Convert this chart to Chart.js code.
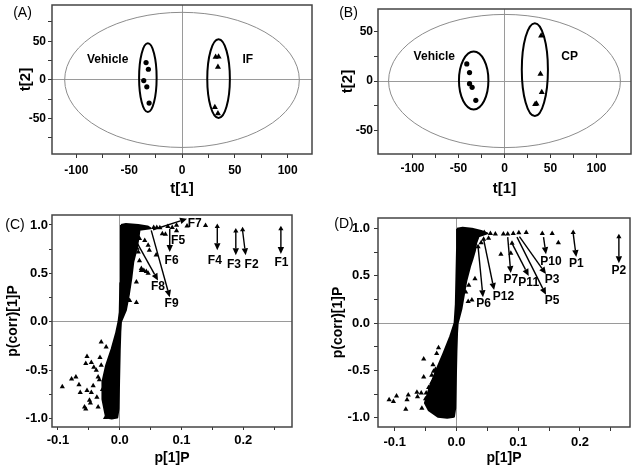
<!DOCTYPE html>
<html><head><meta charset="utf-8">
<script src="https://cdn.jsdelivr.net/npm/chart.js@4.4.1/dist/chart.umd.min.js"></script>
<style>
html,body{margin:0;padding:0;background:#fff;width:638px;height:471px;overflow:hidden;position:relative}
canvas{position:absolute}
</style></head><body>
<canvas id="cA" width="320" height="200" style="left:0;top:0"></canvas>
<canvas id="cB" width="320" height="200" style="left:318px;top:0"></canvas>
<canvas id="cC" width="318" height="271" style="left:0;top:200px"></canvas>
<canvas id="cD" width="320" height="271" style="left:318px;top:200px"></canvas>
<script>
// ---------- Panel A (IF) ----------
const A_vehicleT1 = [-34, -31.8, -36.2, -33.3, -31.1];
const A_vehicleT2 = [22.4, 13.8, -0.9, -9, -30.1];
const A_groupT1 = [31.8, 34.6, 34, 31.1, 34];
const A_groupT2 = [29.7, 30.1, 16.8, -35.3, -43.5];
const A_ellCx = [0, -32.3, 34.6];
const A_ellCy = [0, 2.8, 1.5];
const A_ellRx = [111, 8.3, 10.7];
const A_ellRy = [87.5, 44.5, 51];
const A_names = ['Vehicle', 'IF'];
const A_nameX = [-70.3, 62.3];
const A_nameY = [25.8, 25.8];
const A_xTicks = [-100, -75, -50, -25, 0, 25, 50, 75, 100];
const A_xLabeled = [-100, -50, 0, 50, 100];
const A_yTicks = [-75, -50, -25, 0, 25, 50, 75];
const A_yLabeled = [-50, 0, 50];

// ---------- Panel B (CP) ----------
const B_vehicleT1 = [-41, -38, -38, -35.2, -31.2];
const B_vehicleT2 = [17.3, 8.5, -2.7, -6.4, -19.6];
const B_groupT1 = [39.8, 39.1, 40.5, 34.8, 33.3];
const B_groupT2 = [46, 7.1, -11.5, -23, -23.6];
const B_ellCx = [0, -33.5, 33];
const B_ellCy = [0, 0.5, 11.5];
const B_ellRx = [126, 16, 14.2];
const B_ellRy = [67.5, 29.3, 47.1];
const B_names = ['Vehicle', 'CP'];
const B_nameX = [-76.3, 70.7];
const B_nameY = [24.4, 24.4];
const B_xTicks = [-100, -75, -50, -25, 0, 25, 50, 75, 100];
const B_xLabeled = [-100, -50, 0, 50, 100];
const B_yTicks = [-50, -25, 0, 25, 50];
const B_yLabeled = [-50, 0, 50];

// ---------- Panel C (S-plot IF) ----------
const C_blobX = [0.002,0.010,0.030,0.045,0.050,0.032,0.030,0.026,0.022,0.019,0.015,0.010,0.004,0.002,0.001,0.000,-0.001,-0.002,-0.004,-0.013,-0.022,-0.024,-0.028,-0.028,-0.022,-0.013,-0.006,-0.002,0.000,0.001,0.002];
const C_blobY = [1.000,1.010,1.000,0.985,0.965,0.950,0.850,0.720,0.620,0.460,0.290,0.120,0.030,0.000,-0.100,-0.300,-0.600,-0.900,-0.990,-1.000,-0.990,-0.930,-0.800,-0.620,-0.450,-0.280,-0.120,0.000,0.100,0.400,0.700];
const C_upX = [0.139,0.158,0.188,0.199,0.261,0.109,0.078,0.092,0.092,0.069,0.074,0.060,0.065,0.055,0.085,0.0405,0.046,0.048,0.059,0.035,0.039,0.043,0.046,0.027,0.016,0.027,0.032,0.035,0.032,0.028,0.030];
const C_upY = [0.995,0.985,0.937,0.951,0.962,0.990,0.985,0.996,0.940,0.910,0.905,0.975,0.970,0.975,0.975,0.840,0.790,0.740,0.690,0.530,0.530,0.520,0.500,0.410,0.220,0.200,0.630,0.550,0.860,0.760,0.720];
const C_lowX = [-0.093,-0.078,-0.071,-0.066,-0.064,-0.053,-0.055,-0.057,-0.055,-0.046,-0.042,-0.032,-0.030,-0.022,-0.053,-0.049,-0.035,-0.037,-0.023,-0.0475,-0.046,-0.043,-0.035,-0.038,-0.030,-0.033,-0.028];
const C_lowY = [-0.67,-0.59,-0.57,-0.65,-0.73,-0.36,-0.43,-0.88,-0.90,-0.42,-0.47,-0.37,-0.21,-0.26,-0.71,-0.81,-0.88,-0.78,-0.99,-0.84,-0.73,-0.66,-0.57,-0.50,-0.45,-0.60,-0.70];
const C_arrX0 = [0.261, 0.199, 0.188, 0.158, 0.081, 0.054, 0.0216, 0.051];
const C_arrY0 = [0.95, 0.94, 0.93, 0.97, 0.96, 0.951, 0.89, 0.944];
const C_arrX1 = [0.261, 0.204, 0.188, 0.158, 0.081, 0.109, 0.062, 0.081];
const C_arrY1 = [0.70, 0.686, 0.686, 0.74, 0.72, 1.065, 0.427, 0.254];
const C_labels = ['F1', 'F2', 'F3', 'F4', 'F5', 'F6', 'F7', 'F8', 'F9'];
const C_labelX = [0.262, 0.2135, 0.185, 0.154, 0.0945, 0.084, 0.1215, 0.062, 0.084];
const C_labelY = [0.61, 0.59, 0.59, 0.634, 0.84, 0.634, 1.017, 0.365, 0.186];
const C_xTicks = [-0.1, -0.05, 0, 0.05, 0.1, 0.15, 0.2, 0.25];
const C_xLabeled = [-0.1, 0, 0.1, 0.2];
const C_yTicks = [-1, -0.75, -0.5, -0.25, 0, 0.25, 0.5, 0.75, 1];
const C_yLabeled = [-1, -0.5, 0, 0.5, 1];

// ---------- Panel D (S-plot CP) ----------
const D_blobX = [0.001,0.010,0.025,0.040,0.050,0.036,0.032,0.030,0.026,0.022,0.016,0.012,0.008,0.004,0.002,0.001,0.000,-0.001,-0.002,-0.004,-0.015,-0.030,-0.045,-0.051,-0.043,-0.032,-0.021,-0.010,-0.003,-0.001,0.000,0.001];
const D_blobY = [1.000,1.010,1.000,0.975,0.950,0.920,0.850,0.770,0.680,0.600,0.450,0.300,0.150,0.050,0.000,-0.100,-0.300,-0.600,-0.900,-0.990,-1.000,-0.990,-0.920,-0.845,-0.670,-0.490,-0.320,-0.140,0.000,0.200,0.500,0.800];
const D_upX = [0.063,0.076,0.083,0.092,0.101,0.113,0.139,0.155,0.165,0.189,0.263,0.072,0.088,0.090,0.052,0.030,0.025,0.019,0.055,0.045,0.040,0.035,0.044,0.020,0.015];
const D_upY = [0.943,0.943,0.943,0.950,0.957,0.960,0.950,0.950,0.850,0.960,0.915,0.730,0.740,0.845,0.900,0.470,0.246,0.228,0.950,0.960,0.850,0.810,0.887,0.400,0.330];
const D_lowX = [-0.109,-0.102,-0.097,-0.082,-0.080,-0.078,-0.064,-0.063,-0.057,-0.053,-0.053,-0.037,-0.040,-0.029,-0.032,-0.034,-0.056,-0.049,-0.038,-0.040,-0.045,-0.050];
const D_lowY = [-0.81,-0.83,-0.77,-0.91,-0.81,-0.76,-0.73,-0.78,-0.74,-0.38,-0.57,-0.51,-0.63,-0.26,-0.32,-0.49,-0.90,-0.74,-0.44,-0.55,-0.68,-0.80];
const D_arrX0 = [0.263, 0.189, 0.141, 0.102, 0.098, 0.090, 0.083, 0.044, 0.035];
const D_arrY0 = [0.905, 0.95, 0.91, 0.915, 0.91, 0.845, 0.91, 0.887, 0.81];
const D_arrX1 = [0.263, 0.194, 0.145, 0.145, 0.145, 0.117, 0.088, 0.061, 0.043];
const D_arrY1 = [0.634, 0.70, 0.73, 0.52, 0.30, 0.50, 0.53, 0.35, 0.275];
const D_labels = ['P2', 'P1', 'P10', 'P3', 'P5', 'P11', 'P7', 'P12', 'P6'];
const D_labelX = [0.263, 0.194, 0.153, 0.155, 0.155, 0.117, 0.088, 0.076, 0.044];
const D_labelY = [0.555, 0.626, 0.65, 0.457, 0.239, 0.43, 0.457, 0.28, 0.204];
const D_xTicks = [-0.1, -0.05, 0, 0.05, 0.1, 0.15, 0.2, 0.25];
const D_xLabeled = [-0.1, 0, 0.1, 0.2];
const D_yTicks = [-1, -0.75, -0.5, -0.25, 0, 0.25, 0.5, 0.75, 1];
const D_yLabeled = [-1, -0.5, 0, 0.5, 1];

// ---------- helpers ----------
const FONT = "'Liberation Sans', Arial, Helvetica, sans-serif";
const zip = (xs, ys) => xs.map((x, i) => ({x: x, y: ys[i]}));
const near = (v, arr) => arr.some(a => Math.abs(a - v) < 1e-9);

function overlay(o) {
  return {
    id: 'overlay',
    beforeDatasetsDraw(chart) {
      const {ctx, chartArea: ca, scales: {x, y}} = chart;
      ctx.save();
      ctx.beginPath(); ctx.rect(ca.left, ca.top, ca.right - ca.left, ca.bottom - ca.top); ctx.clip();
      // filled dense cloud: use the line dataset's own point elements
      (o.blobs || []).forEach(di => {
        const pts = chart.getDatasetMeta(di).data;
        if (!pts.length) return;
        ctx.beginPath();
        pts.forEach((p, i) => { if (i === 0) ctx.moveTo(p.x, p.y); else ctx.lineTo(p.x, p.y); });
        ctx.closePath();
        ctx.fillStyle = '#000';
        ctx.fill();
      });
      if (o.ell) {
        o.ell.cx.forEach((cxv, i) => {
          const cx = x.getPixelForValue(cxv), cy = y.getPixelForValue(o.ell.cy[i]);
          const rx = Math.abs(x.getPixelForValue(cxv + o.ell.rx[i]) - cx);
          const ry = Math.abs(y.getPixelForValue(o.ell.cy[i] + o.ell.ry[i]) - cy);
          ctx.beginPath();
          ctx.ellipse(cx, cy, rx, ry, 0, 0, Math.PI * 2);
          ctx.strokeStyle = i === 0 ? '#8c8c8c' : '#000';
          ctx.lineWidth = i === 0 ? 1 : 2;
          ctx.stroke();
        });
      }
      ctx.restore();
    },
    afterDatasetsDraw(chart) {
      const {ctx, chartArea: ca, scales: {x, y}} = chart;
      ctx.save();
      if (o.arr) {
        ctx.strokeStyle = '#000'; ctx.fillStyle = '#000'; ctx.lineWidth = 1.4;
        o.arr.x0.forEach((v, i) => {
          const x0 = x.getPixelForValue(v), y0 = y.getPixelForValue(o.arr.y0[i]);
          const x1 = x.getPixelForValue(o.arr.x1[i]), y1 = y.getPixelForValue(o.arr.y1[i]);
          const ang = Math.atan2(y1 - y0, x1 - x0);
          const hl = 7, hw = 3.2;
          const bx = x1 - hl * Math.cos(ang), by = y1 - hl * Math.sin(ang);
          ctx.beginPath(); ctx.moveTo(x0, y0); ctx.lineTo(bx, by); ctx.stroke();
          ctx.beginPath();
          ctx.moveTo(x1, y1);
          ctx.lineTo(bx + hw * Math.sin(ang), by - hw * Math.cos(ang));
          ctx.lineTo(bx - hw * Math.sin(ang), by + hw * Math.cos(ang));
          ctx.closePath(); ctx.fill();
        });
      }
      if (o.txt) {
        ctx.fillStyle = '#000';
        ctx.font = 'bold ' + o.txt.size + 'px ' + FONT;
        ctx.textAlign = 'center'; ctx.textBaseline = 'middle';
        o.txt.t.forEach((t, i) => {
          ctx.fillText(t, x.getPixelForValue(o.txt.x[i]), y.getPixelForValue(o.txt.y[i]));
        });
      }
      ctx.strokeStyle = '#444'; ctx.lineWidth = 1.5;
      ctx.strokeRect(ca.left, ca.top, ca.right - ca.left, ca.bottom - ca.top);
      ctx.fillStyle = '#000';
      ctx.font = '14px ' + FONT;
      ctx.textAlign = 'center'; ctx.textBaseline = 'middle';
      ctx.fillText(o.tag.text, o.tag.x, o.tag.y);
      ctx.restore();
    }
  };
}

function panel(id, c) {
  const tickFont = {family: FONT, size: c.tickSize, weight: 'bold'};
  const titleFont = {family: FONT, size: c.titleSize, weight: 'bold'};
  const gridColor = ctx => (ctx.tick && Math.abs(ctx.tick.value) < 1e-12) ? '#9a9a9a' : 'rgba(0,0,0,0)';
  new Chart(document.getElementById(id), {
    type: 'scatter',
    data: {datasets: c.datasets},
    options: {
      responsive: false, animation: false, devicePixelRatio: 1,
      layout: {autoPadding: false, padding: {top: c.padTop, right: c.padRight, left: 0, bottom: 0}},
      plugins: {legend: {display: false}, tooltip: {enabled: false}},
      scales: {
        x: {
          type: 'linear', min: c.xMin, max: c.xMax, bounds: 'data',
          afterBuildTicks: s => { s.ticks = c.xTicks.map(v => ({value: v})); },
          afterFit: s => { s.height = c.xHeight; s.paddingLeft = 0; s.paddingRight = 0; },
          grid: {drawOnChartArea: true, drawTicks: true, tickLength: c.tickLen, tickColor: '#333', tickWidth: 1, color: gridColor, lineWidth: 1},
          border: {display: false},
          ticks: {autoSkip: false, maxRotation: 0, minRotation: 0, padding: c.xTickPad, color: '#000', font: tickFont,
                  callback: v => near(v, c.xLabeled) ? c.fmt(v) : ''},
          title: {display: true, text: c.xTitle, color: '#000', font: titleFont, padding: {top: 0, bottom: c.xTitlePad}}
        },
        y: {
          type: 'linear', min: c.yMin, max: c.yMax, bounds: 'data',
          afterBuildTicks: s => { s.ticks = c.yTicks.map(v => ({value: v})); },
          afterFit: s => { s.width = c.yWidth; s.paddingTop = 0; s.paddingBottom = 0; },
          grid: {drawOnChartArea: true, drawTicks: true, tickLength: c.tickLen, tickColor: '#333', tickWidth: 1, color: gridColor, lineWidth: 1},
          border: {display: false},
          ticks: {autoSkip: false, padding: c.yTickPad, color: '#000', font: tickFont,
                  callback: v => near(v, c.yLabeled) ? c.fmt(v) : ''},
          title: {display: true, text: c.yTitle, color: '#000', font: titleFont, padding: {top: c.yTitlePad, bottom: 0}}
        }
      }
    },
    plugins: [overlay(c.overlay)]
  });
}

const circleSet = (xs, ys) => ({data: zip(xs, ys), pointStyle: 'circle', pointRadius: 2.6, pointBackgroundColor: '#000', pointBorderColor: '#000', pointBorderWidth: 0});
const triSet = (xs, ys, r) => ({data: zip(xs, ys), pointStyle: 'triangle', pointRadius: r, pointBackgroundColor: '#000', pointBorderColor: '#000', pointBorderWidth: 0});
const blobSet = (xs, ys) => {
  const d = zip(xs, ys); d.push(d[0]);
  return {data: d, showLine: true, fill: false, tension: 0, pointRadius: 0, borderColor: '#000', borderWidth: 2,
          borderJoinStyle: 'round', backgroundColor: '#000'};
};
const fmtInt = v => String(v);
const fmt1 = v => (Math.abs(v) < 1e-12 ? 0 : v).toFixed(1);

panel('cA', {
  xMin: -123, xMax: 123, yMin: -96, yMax: 97,
  xTicks: A_xTicks, xLabeled: A_xLabeled, yTicks: A_yTicks, yLabeled: A_yLabeled, fmt: fmtInt,
  padTop: 5, padRight: 8, yWidth: 52, xHeight: 46, tickLen: 4, xTickPad: 5, yTickPad: 2,
  tickSize: 12, titleSize: 15, xTitle: 't[1]', yTitle: 't[2]', xTitlePad: 2, yTitlePad: 17,
  datasets: [circleSet(A_vehicleT1, A_vehicleT2), triSet(A_groupT1, A_groupT2, 3.5)],
  overlay: {ell: {cx: A_ellCx, cy: A_ellCy, rx: A_ellRx, ry: A_ellRy},
            txt: {t: A_names, x: A_nameX, y: A_nameY, size: 12}, tag: {text: '(A)', x: 22.5, y: 13.5}}
});

panel('cB', {
  xMin: -137.5, xMax: 137.5, yMin: -74, yMax: 73,
  xTicks: B_xTicks, xLabeled: B_xLabeled, yTicks: B_yTicks, yLabeled: B_yLabeled, fmt: fmtInt,
  padTop: 9, padRight: 7, yWidth: 60, xHeight: 46, tickLen: 4, xTickPad: 3, yTickPad: 1,
  tickSize: 12, titleSize: 15, xTitle: 't[1]', yTitle: 't[2]', xTitlePad: 2, yTitlePad: 21,
  datasets: [circleSet(B_vehicleT1, B_vehicleT2), triSet(B_groupT1, B_groupT2, 3.5)],
  overlay: {ell: {cx: B_ellCx, cy: B_ellCy, rx: B_ellRx, ry: B_ellRy},
            txt: {t: B_names, x: B_nameX, y: B_nameY, size: 12}, tag: {text: '(B)', x: 30.5, y: 13.5}}
});

panel('cC', {
  xMin: -0.1097, xMax: 0.279, yMin: -1.087, yMax: 1.103,
  xTicks: C_xTicks, xLabeled: C_xLabeled, yTicks: C_yTicks, yLabeled: C_yLabeled, fmt: fmt1,
  padTop: 15, padRight: 26, yWidth: 52, xHeight: 44, tickLen: 3, xTickPad: 3, yTickPad: 1,
  tickSize: 13, titleSize: 14, xTitle: 'p[1]P', yTitle: 'p(corr)[1]P', xTitlePad: 4, yTitlePad: 5,
  datasets: [triSet(C_upX, C_upY, 3), triSet(C_lowX, C_lowY, 3), blobSet(C_blobX, C_blobY)],
  overlay: {blobs: [2], arr: {x0: C_arrX0, y0: C_arrY0, x1: C_arrX1, y1: C_arrY1},
            txt: {t: C_labels, x: C_labelX, y: C_labelY, size: 12}, tag: {text: '(C)', x: 15, y: 25}}
});

panel('cD', {
  xMin: -0.127, xMax: 0.281, yMin: -1.099, yMax: 1.113,
  xTicks: D_xTicks, xLabeled: D_xLabeled, yTicks: D_yTicks, yLabeled: D_yLabeled, fmt: fmt1,
  padTop: 18, padRight: 8, yWidth: 60, xHeight: 44, tickLen: 4, xTickPad: 4, yTickPad: 4,
  tickSize: 13, titleSize: 14, xTitle: 'p[1]P', yTitle: 'p(corr)[1]P', xTitlePad: 4, yTitlePad: 12,
  datasets: [triSet(D_upX, D_upY, 3), triSet(D_lowX, D_lowY, 3), blobSet(D_blobX, D_blobY)],
  overlay: {blobs: [2], arr: {x0: D_arrX0, y0: D_arrY0, x1: D_arrX1, y1: D_arrY1},
            txt: {t: D_labels, x: D_labelX, y: D_labelY, size: 12}, tag: {text: '(D)', x: 26, y: 24}}
});
</script>
</body></html>
